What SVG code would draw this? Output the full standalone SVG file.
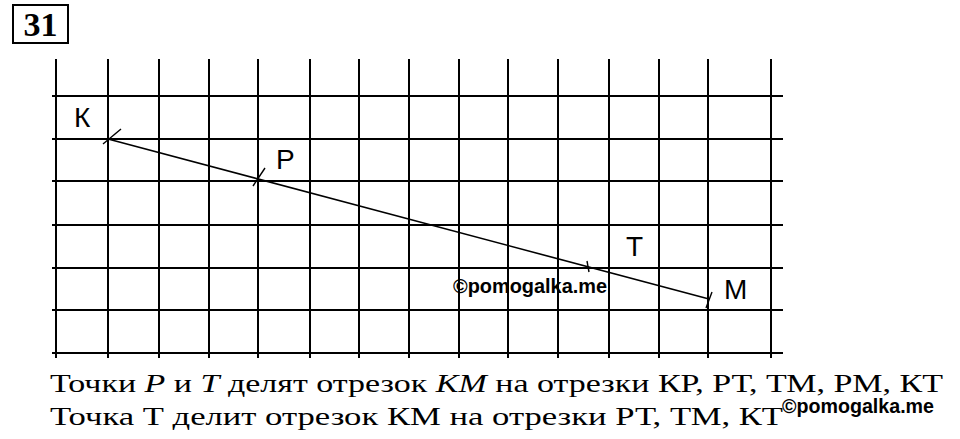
<svg xmlns="http://www.w3.org/2000/svg" width="960" height="439" viewBox="0 0 960 439">
<style>
.grid line{stroke:#000;stroke-width:2}
.seg{stroke:#000;stroke-width:1.6;fill:none}
.tick{stroke:#000;stroke-width:1.4}
.lbl{font-family:"Liberation Sans",Arial,sans-serif;font-size:28px;fill:#000}
.wm{font-family:"Liberation Sans",Arial,sans-serif;font-weight:bold;font-size:20px;fill:#000}
.txt{font-family:"Liberation Serif","Times New Roman",serif;font-size:26px;fill:#000}
.it{font-style:italic}
</style>
<rect width="960" height="439" fill="#fff"/>
<g id="number">
<rect x="13" y="5" width="55" height="38" fill="none" stroke="#000" stroke-width="2"/>
<text x="40.5" y="36" text-anchor="middle" font-family="Liberation Serif,serif" font-weight="bold" font-size="34">31</text>
</g>
<g id="grid" class="grid">
<line x1="52" y1="96" x2="783" y2="96"/>
<line x1="52" y1="139" x2="783" y2="139"/>
<line x1="52" y1="181" x2="783" y2="181"/>
<line x1="52" y1="225" x2="783" y2="225"/>
<line x1="52" y1="268" x2="783" y2="268"/>
<line x1="52" y1="310" x2="783" y2="310"/>
<line x1="52" y1="353" x2="783" y2="353"/>
<line x1="56" y1="59" x2="56" y2="358"/>
<line x1="108" y1="59" x2="108" y2="358"/>
<line x1="159" y1="59" x2="159" y2="358"/>
<line x1="209" y1="59" x2="209" y2="358"/>
<line x1="258" y1="59" x2="258" y2="358"/>
<line x1="310" y1="59" x2="310" y2="358"/>
<line x1="359" y1="59" x2="359" y2="358"/>
<line x1="409" y1="59" x2="409" y2="358"/>
<line x1="459" y1="59" x2="459" y2="358"/>
<line x1="508" y1="59" x2="508" y2="358"/>
<line x1="558" y1="59" x2="558" y2="358"/>
<line x1="609" y1="59" x2="609" y2="358"/>
<line x1="659" y1="59" x2="659" y2="358"/>
<line x1="708" y1="59" x2="708" y2="358"/>
<line x1="771" y1="59" x2="771" y2="358"/>
</g>
<g id="connectors">
<line class="seg" x1="108" y1="139" x2="709" y2="299"/>
</g>
<g id="K">
<line class="tick" x1="103" y1="144" x2="121" y2="129"/>
<text class="lbl" x="74" y="127">К</text>
</g>
<g id="P">
<line class="tick" x1="253" y1="186" x2="265" y2="168"/>
<text class="lbl" x="276" y="169">Р</text>
</g>
<g id="T">
<line class="tick" x1="587" y1="261" x2="589" y2="272"/>
<text class="lbl" x="626" y="256">Т</text>
</g>
<g id="M">
<line class="tick" x1="706" y1="308" x2="712" y2="292"/>
<text class="lbl" x="724" y="299">М</text>
</g>
<text class="wm" x="453" y="293" textLength="154" lengthAdjust="spacingAndGlyphs">©pomogalka.me</text>
<text class="txt" x="50" y="392" textLength="893" lengthAdjust="spacingAndGlyphs">Точки <tspan class="it">P</tspan> и <tspan class="it">T</tspan> делят отрезок <tspan class="it">KM</tspan> на отрезки КР, РТ, ТМ, РМ, КТ</text>
<text class="txt" x="50" y="425" textLength="733" lengthAdjust="spacingAndGlyphs">Точка Т делит отрезок КМ на отрезки РТ, ТМ, КТ</text>
<text class="wm" x="782" y="413" textLength="152" lengthAdjust="spacingAndGlyphs">©pomogalka.me</text>
</svg>
